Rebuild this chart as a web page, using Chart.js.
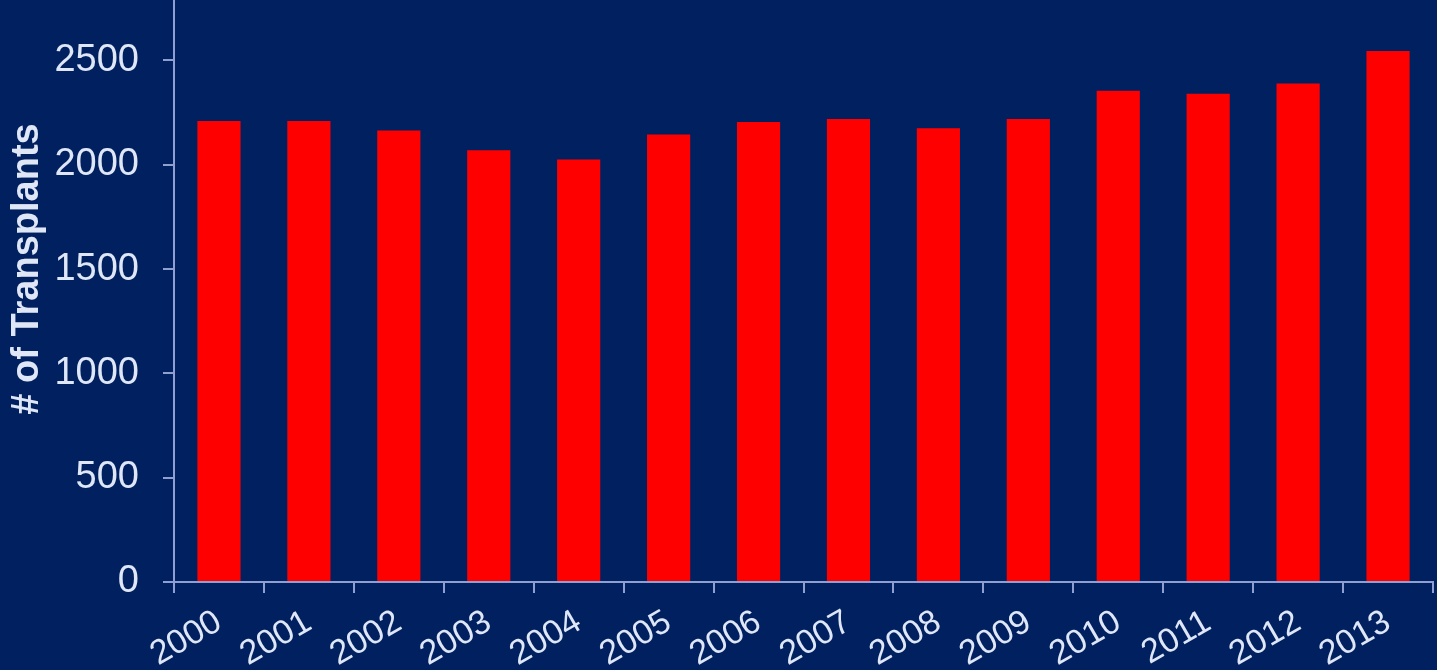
<!DOCTYPE html>
<html>
<head>
<meta charset="utf-8">
<script src="https://cdn.jsdelivr.net/npm/chart.js@4/dist/chart.umd.min.js"></script>
<style>
    html, body { margin: 0; padding: 0; background: #002060; }
    #wrap { width: 1437px; height: 670px; }
</style>
</head>
<body>
<div id="wrap"><canvas id="transplantChart"></canvas></div>
<script>
var years = ["2000", "2001", "2002", "2003", "2004", "2005", "2006", "2007", "2008", "2009", "2010", "2011", "2012", "2013"];
var transplants = [2210, 2210, 2165, 2070, 2025, 2145, 2205, 2220, 2175, 2220, 2355, 2340, 2390, 2545];
var yTicks = [0, 500, 1000, 1500, 2000, 2500];
var yTitle = "# of Transplants";

var axisColor = "#8f9fd2";
var textColor = "#dfe7f7";
var fontFamily = "'Liberation Sans', Arial, sans-serif";

// canvas background
var bgPlugin = {
    id: "bg",
    beforeDraw: function (chart) {
        var ctx = chart.ctx;
        ctx.save();
        ctx.fillStyle = "#002060";
        ctx.fillRect(0, 0, chart.width, chart.height);
        ctx.restore();
    }
};

// y axis title, sits a little above the middle of the axis
var yTitlePlugin = {
    id: "yTitle",
    afterDraw: function (chart) {
        var ctx = chart.ctx;
        ctx.save();
        ctx.translate(28, 269);
        ctx.rotate(-Math.PI / 2);
        ctx.fillStyle = textColor;
        ctx.font = "bold 38px " + fontFamily;
        ctx.textAlign = "center";
        ctx.textBaseline = "middle";
        ctx.fillText(yTitle, 0, 0);
        ctx.restore();
    }
};

var ctx = document.getElementById("transplantChart").getContext("2d");
new Chart(ctx, {
    type: "bar",
    data: {
        labels: years,
        datasets: [{
            data: transplants,
            backgroundColor: "#ff0000",
            borderWidth: 0,
            barPercentage: 0.48,
            categoryPercentage: 1.0
        }]
    },
    options: {
        responsive: true,
        maintainAspectRatio: false,
        animation: false,
        layout: { padding: { top: 0, right: 4, left: 0, bottom: 0 } },
        plugins: {
            legend: { display: false },
            tooltip: { enabled: false }
        },
        scales: {
            x: {
                grid: { drawOnChartArea: false, color: axisColor, lineWidth: 2, tickLength: 11 },
                border: { color: axisColor, width: 2 },
                ticks: {
                    color: textColor,
                    font: { family: fontFamily, size: 34 },
                    maxRotation: 30,
                    minRotation: 30,
                    padding: 9
                },
                afterFit: function (scale) {
                    scale.height = 88;
                    scale.paddingLeft = 0;
                    scale.paddingRight = 0;
                }
            },
            y: {
                min: 0,
                max: 2790,
                grid: { drawOnChartArea: false, color: axisColor, lineWidth: 2, tickLength: 11 },
                border: { color: axisColor, width: 2 },
                ticks: {
                    color: textColor,
                    font: { family: fontFamily, size: 38 },
                    padding: 24,
                    callback: function (value) { return String(value); }
                },
                afterBuildTicks: function (scale) {
                    scale.ticks = yTicks.map(function (v) { return { value: v }; });
                },
                afterFit: function (scale) {
                    scale.width = 174;
                    scale.paddingTop = 0;
                    scale.paddingBottom = 0;
                }
            }
        }
    },
    plugins: [bgPlugin, yTitlePlugin]
});
</script>
</body>
</html>
